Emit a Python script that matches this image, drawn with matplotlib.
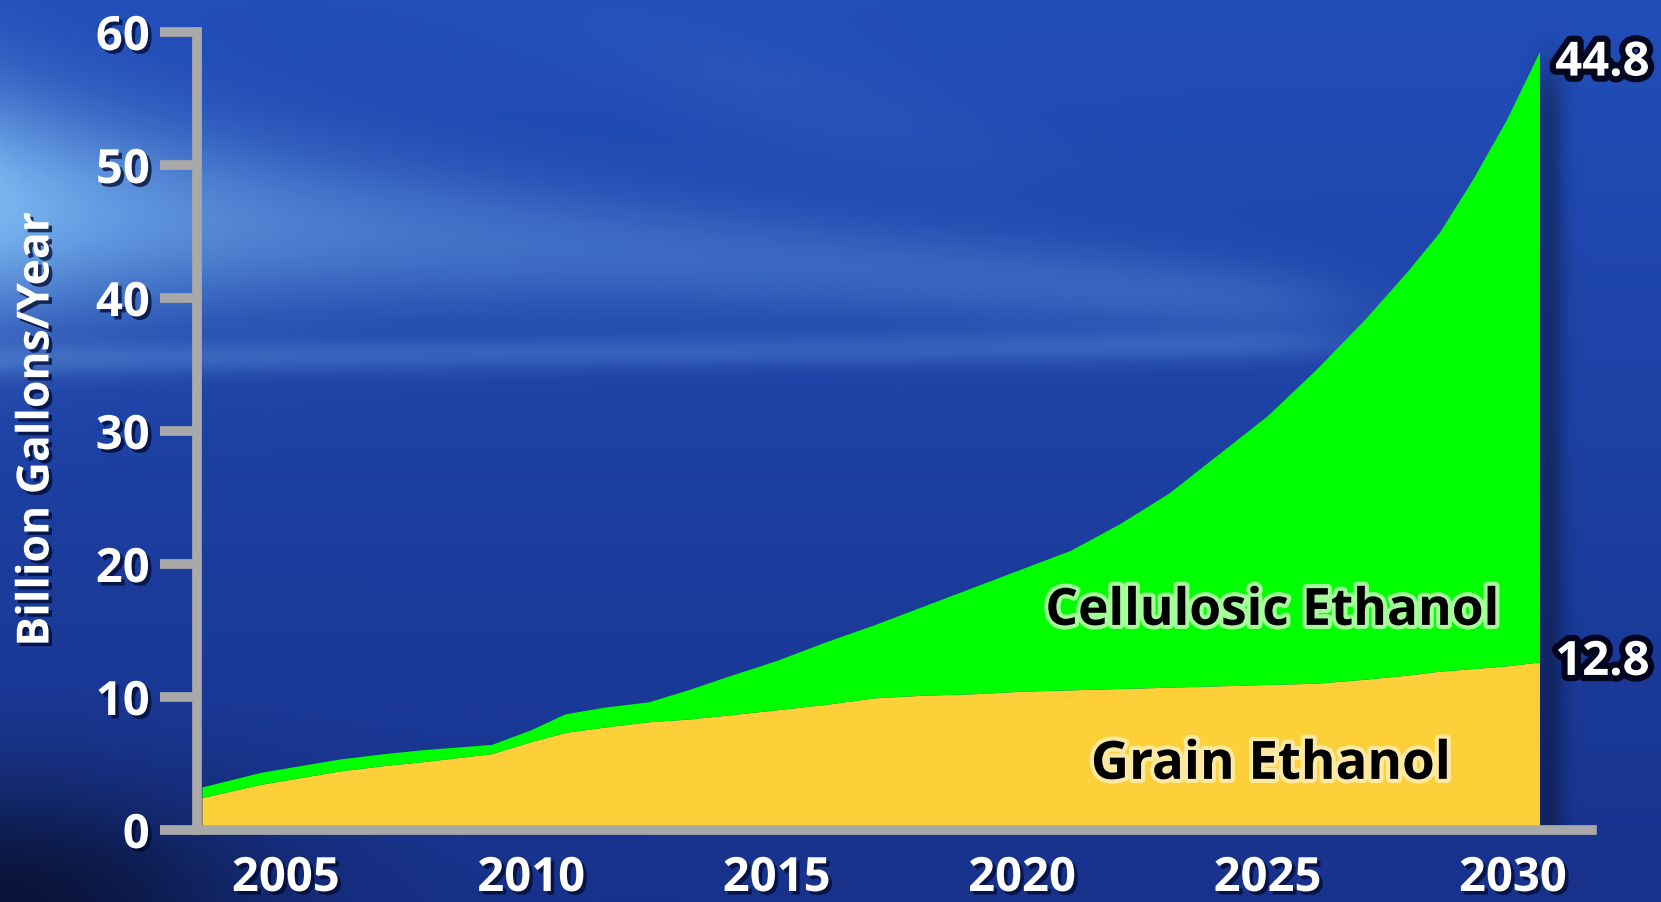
import matplotlib
matplotlib.use('Agg')
import matplotlib.pyplot as plt
import matplotlib.patheffects as pe
import numpy as np

# values (billion gallons / year)
years = [2003.3, 2004.5, 2006.1, 2007.0, 2007.8, 2009.2, 2010.0, 2010.7, 2011.5,
         2012.4, 2013.2, 2014, 2015, 2016, 2017, 2018, 2019, 2020, 2021, 2022,
         2023, 2024, 2025, 2026, 2027, 2027.84, 2028.51, 2029.19, 2029.88, 2030.55]
grain = [2.4, 3.4, 4.4, 4.8, 5.1, 5.7, 6.6, 7.3, 7.7,
         8.1, 8.3, 8.6, 9.0, 9.4, 9.9, 10.1, 10.2, 10.4, 10.5, 10.6,
         10.7, 10.8, 10.9, 11.0, 11.3, 11.6, 11.9, 12.1, 12.3, 12.6]
total = [3.2, 4.3, 5.3, 5.7, 6.0, 6.4, 7.5, 8.7, 9.2,
         9.6, 10.5, 11.5, 12.7, 14.1, 15.4, 16.8, 18.2, 19.6, 21.0, 23.0,
         25.3, 28.2, 31.1, 34.6, 38.4, 41.9, 44.9, 48.9, 53.4, 58.5]
cellulosic = [t - g for t, g in zip(total, grain)]

x_ticks = [2005, 2010, 2015, 2020, 2025, 2030]
y_ticks = [0, 10, 20, 30, 40, 50, 60]
end_cell = '44.8'
end_grain = '12.8'

plt.rcParams['font.family'] = ['Open Sans', 'DejaVu Sans']
plt.rcParams['font.weight'] = 'bold'

W, H = 1661, 902
fig = plt.figure(figsize=(W / 100, H / 100), dpi=100)

# blue backdrop with soft light streaks
yy, xx = np.mgrid[0:H, 0:W].astype(float)
t = yy / H
bg = np.zeros((H, W, 3))
top = np.array([34, 78, 186]) / 255
bot = np.array([24, 50, 140]) / 255
for c in range(3):
    bg[..., c] = top[c] * (1 - t) + bot[c] * t
light = np.array([120, 180, 240]) / 255
fade = 1 / (1 + np.exp((xx - 1330) / 40))
yc = 205 + 0.075 * xx
sig = 95 * np.exp(-xx / 700) + 22
band1 = np.exp(-((yy - yc) / sig) ** 2) * (0.75 * np.exp(-xx / 250) + 0.28) * fade
band2 = np.exp(-((yy - (360 - 0.012 * xx)) / 16) ** 2) * 0.25 * fade
band3 = np.exp(-((yy - 40 - 0.3 * (xx - 600)) / 60) ** 2) * 0.08 * np.exp(-((xx - 800) / 250) ** 2)
amt = np.clip(band1 + band2 + band3, 0, 1)[..., None]
bg = bg * (1 - amt) + light * amt
dark = np.exp(-((xx / 260) ** 2 + ((yy - H) / 120) ** 2)) * 0.6
dark += np.exp(-(((xx - 1548) / 16) ** 2)) * 0.35 / (1 + np.exp(-(yy - 70) / 15)) * (yy < 830)
bg = bg * (1 - np.clip(dark, 0, 0.8)[..., None])
bg_ax = fig.add_axes([0, 0, 1, 1])
bg_ax.imshow(bg, aspect='auto', interpolation='bilinear')
bg_ax.axis('off')

ax = fig.add_axes([197 / W, (H - 830) / H, (1592 - 197) / W, (830 - 32) / H])
ax.set_facecolor('none')
ax.stackplot(years, grain, cellulosic, colors=['#fdcf38', '#00ff00'], linewidth=0)
ax.set_xlim(2003.19, 2031.61)
ax.set_ylim(0, 60)

grey = '#a9a9a9'
for s in ['top', 'right']:
    ax.spines[s].set_visible(False)
for s in ['left', 'bottom']:
    ax.spines[s].set_color(grey)
    ax.spines[s].set_linewidth(7)
    ax.spines[s].set_zorder(5)

tick_fx = [pe.withSimplePatchShadow(offset=(2.5, -2.5), shadow_rgbFace='#000a30', alpha=0.75)]
ax.set_yticks(y_ticks)
ax.set_xticks(x_ticks)
ax.tick_params(axis='y', length=27, width=7, color=grey, pad=7, labelsize=34,
               labelcolor='white')
ax.tick_params(axis='x', length=0, pad=18, labelsize=34, labelcolor='white')
for lab in ax.get_xticklabels() + ax.get_yticklabels():
    lab.set_fontweight('bold')
    lab.set_path_effects(tick_fx)

fig.text(37 / W, 1 - 429 / H, 'Billion Gallons/Year', rotation=90, ha='center',
         va='center', fontsize=32, color='white', fontweight='bold',
         path_effects=tick_fx)

ax.text(2025.09, 16.4, 'Cellulosic Ethanol', ha='center', va='center', fontsize=37,
        fontweight='bold', color='black', zorder=6,
        path_effects=[pe.Stroke(linewidth=6, foreground='#dcffd0', alpha=0.75), pe.Normal()])
ax.text(2025.07, 4.9, 'Grain Ethanol', ha='center', va='center', fontsize=38,
        fontweight='bold', color='black', zorder=6,
        path_effects=[pe.Stroke(linewidth=6, foreground='#fff3c8', alpha=0.75), pe.Normal()])

end_fx = [pe.Stroke(linewidth=9, foreground='#000010', alpha=0.9), pe.Normal()]
ax.annotate(end_cell, (years[-1], total[-1]), xytext=(11, -8), textcoords='offset points',
            ha='left', va='center', fontsize=34, fontweight='bold', color='white',
            path_effects=end_fx, annotation_clip=False)
ax.annotate(end_grain, (years[-1], grain[-1]), xytext=(11, 0), textcoords='offset points',
            ha='left', va='center', fontsize=34, fontweight='bold', color='white',
            path_effects=end_fx, annotation_clip=False)

fig.savefig('out.png', dpi=100)
